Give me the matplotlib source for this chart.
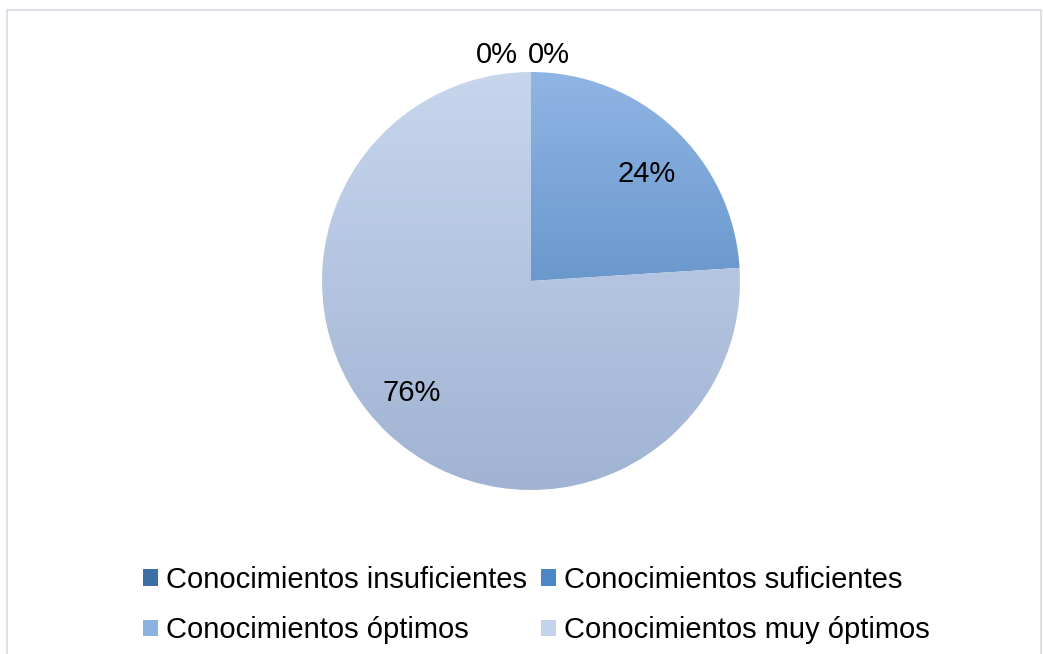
import numpy as np
import matplotlib
matplotlib.use("Agg")
import matplotlib.pyplot as plt
from matplotlib.patches import Patch, Rectangle
from matplotlib.colors import LinearSegmentedColormap

categories = ["Conocimientos insuficientes", "Conocimientos suficientes",
              "Conocimientos óptimos", "Conocimientos muy óptimos"]
values = [0, 0, 24, 76]
pct_labels = ["0%", "0%", "24%", "76%"]

# gradient colours (top, bottom) per slice, and legend swatch colours
grad_colors = [("#4a7ab3", "#335f92"), ("#5b93d3", "#3f77b8"),
               ("#8fb5e4", "#6b98cd"), ("#c7d6ed", "#a0b3d3")]
swatch_colors = ["#3d6ea6", "#4a86c8", "#8ab1e0", "#c3d3eb"]

plt.rcParams['font.family'] = ['Liberation Sans', 'DejaVu Sans']
FS = 21

W, H = 1043, 654
fig = plt.figure(figsize=(W / 100, H / 100), dpi=100)

# outer chart frame
fig.patches.append(Rectangle((7 / W, -0.02), (1041 - 7) / W, 1.02 - 9.5 / H,
                             transform=fig.transFigure, fill=False,
                             edgecolor="#dde1e7", linewidth=1.5))

cx, cy, r = 531, 281, 209
ax = fig.add_axes([(cx - r) / W, (H - cy - r) / H, 2 * r / W, 2 * r / H])
wedges, _ = ax.pie(values, startangle=90, counterclock=False, radius=1,
                   wedgeprops=dict(linewidth=0))
ax.set_xlim(-1, 1)
ax.set_ylim(-1, 1)
ax.set_aspect('equal')
ax.axis('off')

for w, (ctop, cbot), v in zip(wedges, grad_colors, values):
    w.set_facecolor('none')
    w.set_edgecolor('none')
    if v == 0:
        continue
    t = np.radians(np.linspace(w.theta1, w.theta2, 200))
    ys = np.concatenate([np.sin(t) * w.r, [0]])
    y0, y1 = ys.min(), ys.max()
    cmap = LinearSegmentedColormap.from_list("g", [cbot, ctop])
    grad = np.linspace(0, 1, 256).reshape(-1, 1)
    im = ax.imshow(grad, extent=[-1, 1, y0, y1], origin='lower', cmap=cmap,
                   aspect='auto', interpolation='bicubic', zorder=1)
    im.set_clip_path(w)

# percentage labels
for w, lab, v in zip(wedges, pct_labels, values):
    if v == 0:
        continue
    mid = np.radians((w.theta1 + w.theta2) / 2 - 3.8)
    d = 0.77
    ax.text(d * np.cos(mid) - 0.008, d * np.sin(mid) - 0.012, lab,
            ha='center', va='center', fontsize=FS, color='black', zorder=3)
# zero-value labels placed just outside the top of the pie
zero_idx = [i for i, v in enumerate(values) if v == 0]
offsets = [-0.163, 0.086]
for k, i in enumerate(zero_idx):
    ax.text(offsets[k], 1.083, pct_labels[i], ha='center', va='center',
            fontsize=FS, color='black', zorder=3, clip_on=False)

handles = [Patch(facecolor=c, edgecolor='none') for c in swatch_colors]
order = [0, 2, 1, 3]
fig.legend([handles[i] for i in order], [categories[i] for i in order],
           ncol=2, loc='upper left', bbox_to_anchor=(143 / W, 1 - 566 / H),
           frameon=False, fontsize=FS, handlelength=0.5, handleheight=0.5,
           handletextpad=0.28, columnspacing=0.5, labelspacing=0.77,
           borderpad=0, borderaxespad=0)

fig.savefig("out.png", dpi=100, facecolor='white')
